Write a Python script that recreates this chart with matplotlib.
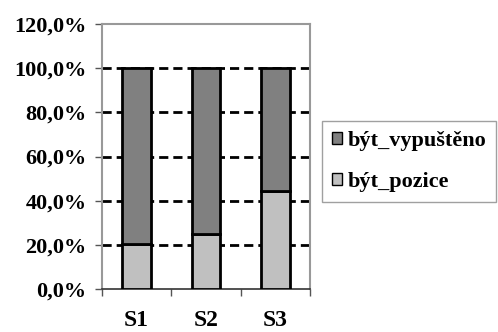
import matplotlib.pyplot as plt
from matplotlib.ticker import FuncFormatter

categories = ["S1", "S2", "S3"]
pozice = [20.4, 24.9, 44.2]
vypusteno = [79.6, 75.1, 55.8]
series_labels = ["být_vypuštěno", "být_pozice"]

plt.rcParams["font.family"] = ["Liberation Serif", "DejaVu Serif"]
plt.rcParams["font.weight"] = "bold"

fig = plt.figure(figsize=(4.98, 3.32), dpi=100)
ax = fig.add_axes([102 / 498, 1 - 289 / 332, 208 / 498, 265 / 332])

x = range(len(categories))
b1 = ax.bar(x, pozice, width=0.41, color="#c0c0c0", edgecolor="black", linewidth=2, zorder=3)
b2 = ax.bar(x, vypusteno, bottom=pozice, width=0.41, color="#808080", edgecolor="black", linewidth=2, zorder=3)

ax.set_xlim(-0.5, 2.5)
ax.set_ylim(0, 120)
ax.set_yticks(range(0, 121, 20))
ax.yaxis.set_major_formatter(FuncFormatter(lambda v, p: f"{v:.1f}%".replace(".", ",")))
ax.set_xticks([-0.5, 0.5, 1.5, 2.5])
ax.set_xticklabels([])
ax.set_xticks(list(x), minor=True)
ax.set_xticklabels(categories, minor=True)
ax.tick_params(axis="x", which="minor", length=0, pad=15, labelsize=17)
ax.tick_params(axis="x", which="major", length=5, width=1, direction="out", color="#555555")
ax.tick_params(axis="y", length=5, width=1, color="#555555", labelsize=16, pad=6)

# dashed gridlines from 20% up to 100%
for v in range(20, 101, 20):
    ax.axhline(v, color="black", linestyle=(0, (3.3, 1.8)), linewidth=2, zorder=1)

for side in ["top", "right", "left"]:
    ax.spines[side].set_color("#999999")
    ax.spines[side].set_linewidth(1.5)
ax.spines["bottom"].set_color("#333333")
ax.spines["bottom"].set_linewidth(1.2)

leg = fig.legend([b2, b1], series_labels, loc="upper left",
                 bbox_to_anchor=(322 / 498, 1 - 121 / 332), fontsize=16,
                 frameon=True, fancybox=False, edgecolor="#888888",
                 handlelength=0.45, handleheight=0.45, handletextpad=0.25,
                 labelspacing=0.95, borderpad=0.45, borderaxespad=0)
leg.get_frame().set_linewidth(1)
for h in leg.legend_handles:
    h.set_linewidth(1)

fig.savefig("out.png", dpi=100)
